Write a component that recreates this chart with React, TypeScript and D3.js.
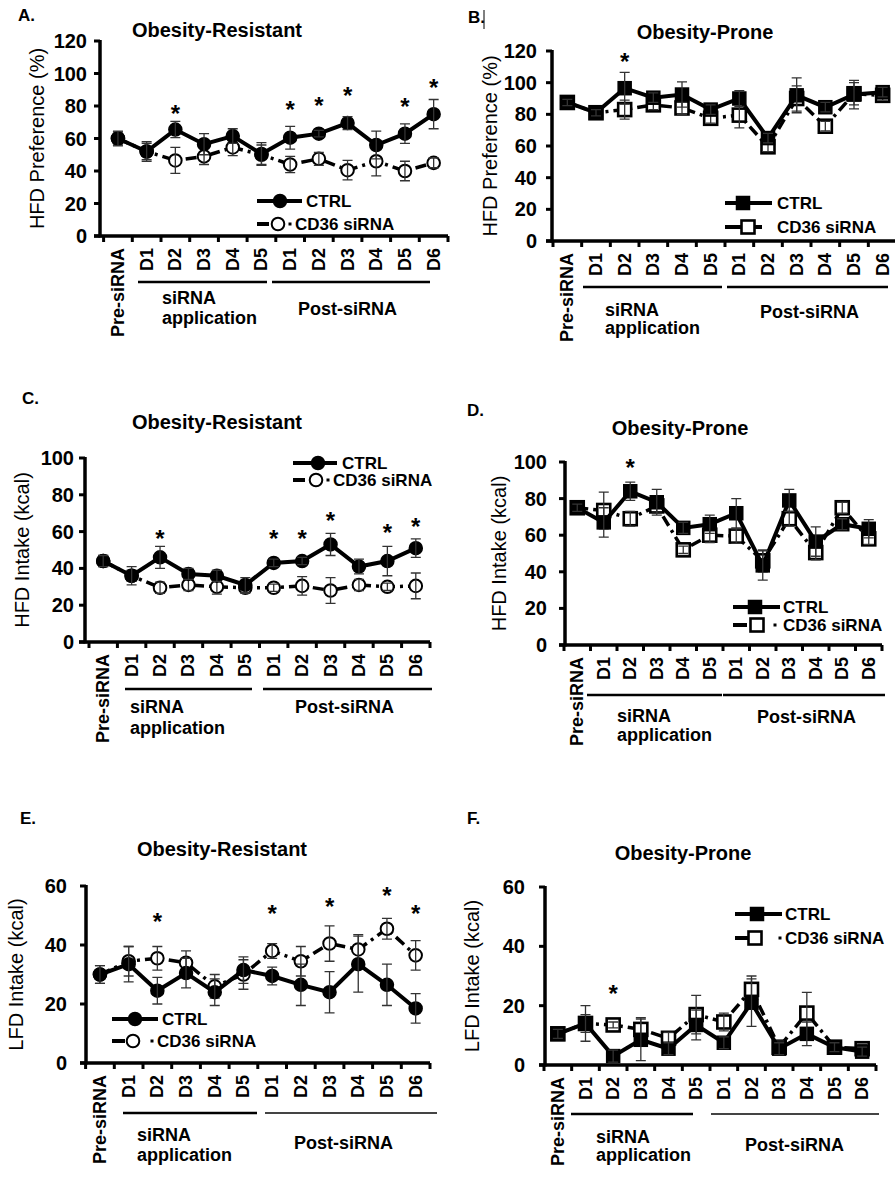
import React from "react";
import * as d3 from "d3";

const FONT = "'Liberation Sans', Arial, Helvetica, sans-serif";

const categories = ["Pre-siRNA", "D1", "D2", "D3", "D4", "D5", "D1", "D2", "D3", "D4", "D5", "D6"];
const groupLabels = ["siRNA", "application", "Post-siRNA"];
const seriesNames = ["CTRL", "CD36 siRNA"];

// Panel A – HFD preference, obesity-resistant
const ctrlA = [60, 52, 65.5, 56.5, 61.5, 50.5, 60.5, 63, 69.5, 56, 63, 75];
const ctrlAErr = [4.5, 6, 5, 6.5, 4.5, 7, 7, 2, 4, 8.5, 6, 9];
const cd36A = [60, 52, 46.5, 49, 54.5, 50, 44, 47.5, 40.5, 46, 40, 45];
const cd36AErr = [4, 5, 8, 5, 5, 6, 5, 4, 6, 9, 6, 3];
const starIdxA = [2, 6, 7, 8, 10, 11];
const starValA = [79, 81, 84, 90, 83, 95];

// Panel B – HFD preference, obesity-prone
const ctrlB = [87.5, 81, 96.5, 90.5, 92.5, 83, 90, 65, 92, 84.5, 92.5, 94];
const ctrlBErr = [2, 2, 10, 3, 8, 3, 5, 3, 11, 3, 9, 3];
const cd36B = [87.5, 81, 83, 86, 84, 77.5, 79.5, 59.5, 90, 72.5, 93, 92];
const cd36BErr = [2, 2, 6, 3, 4, 3, 8, 3, 8, 3, 7, 3];
const starIdxB = [2];
const starValB = [117];

// Panel C – HFD intake, obesity-resistant
const ctrlC = [44, 36, 46, 37, 36, 31, 43, 44, 53, 41, 44, 51];
const ctrlCErr = [3, 5, 6, 3, 3, 4, 2, 2, 6, 4, 8, 5];
const cd36C = [44, 36, 29.5, 31, 30, 29.5, 29.5, 30.5, 28, 31, 30, 30.5];
const cd36CErr = [3, 3, 3, 3, 4, 3, 2, 5, 7, 3, 2, 7];
const starIdxC = [2, 6, 7, 8, 10, 11];
const starValC = [59.5, 59.5, 59.5, 69, 62.5, 66];

// Panel D – HFD intake, obesity-prone
const ctrlD = [75, 67, 84, 78, 64, 66, 72, 43.5, 79, 56.5, 66, 63.5];
const ctrlDErr = [2, 8, 5, 7, 3, 5, 8, 8, 6, 8, 3, 5];
const cd36D = [75, 73.5, 69, 76, 52, 60, 59.5, 46, 69, 50.5, 75, 58];
const cd36DErr = [2, 10, 4, 4, 2, 4, 4, 6, 4, 4, 3, 3];
const starIdxD = [2];
const starValD = [100];

// Panel E – LFD intake, obesity-resistant
const ctrlE = [30, 33.5, 24.5, 30.5, 24, 31.5, 29.5, 26.5, 24, 33.5, 26.5, 18.5];
const ctrlEErr = [3, 6, 4.5, 5, 4.5, 4.5, 3, 7, 7, 9.5, 7, 5];
const cd36E = [30, 34.5, 35.5, 34, 26, 30, 38, 34.5, 40.5, 38.5, 45.5, 36.5];
const cd36EErr = [3, 5, 4, 4, 4, 5, 2.5, 5, 6, 5, 3.5, 5];
const starIdxE = [2, 6, 8, 10, 11];
const starValE = [50, 52.5, 55, 58.5, 52.5];

// Panel F – LFD intake, obesity-prone
const ctrlF = [10.5, 14, 3, 8.5, 5.5, 13.5, 7.5, 21, 5.5, 10.5, 6, 4.5];
const ctrlFErr = [1.5, 6, 2, 7, 2, 5, 2, 8, 2, 4, 1.5, 1.5];
const cd36F = [10.5, 14, 13.5, 12, 9, 17, 14.5, 25.5, 6, 17.5, 6, 5.5];
const cd36FErr = [1.5, 3, 1, 4, 2, 6.5, 3, 4.5, 2, 7, 1.5, 1.5];
const starIdxF = [2];
const starValF = [26];

type Layout = {
  axisX: number; band: [number, number]; y0: number; y1: number; tickDx: number;
  ylabelX: number; titleX: number; titleY: number; letterX: number; letterY: number;
  lineY: number; l1: [number, number]; l2: [number, number]; lineW2: number; line2Color: string;
  siX: number; siY: number; appY: number; postX: number; postY: number;
  leg: { r1: number; r2: number; lx1: number; lx2: number; m1: number; t1: number; dashEnd: number; m2: number; dot: number | null; t2: number };
};

const layoutA: Layout = {
  axisX: 100, band: [103.6, 448], y0: 236, y1: 41, tickDx: -13,
  ylabelX: 37, titleX: 217, titleY: 30, letterX: 18, letterY: 15,
  lineY: 282, l1: [138, 267], l2: [272, 430], lineW2: 2.5, line2Color: "#000",
  siX: 162, siY: 298, appY: 318, postX: 298, postY: 309,
  leg: { r1: 201, r2: 224, lx1: 257, lx2: 302, m1: 280, t1: 306, dashEnd: 269, m2: 278, dot: 290, t2: 295 },
};
const layoutB: Layout = {
  axisX: 552, band: [553, 897], y0: 241, y1: 51, tickDx: -15,
  ylabelX: 490, titleX: 705, titleY: 32, letterX: 468, letterY: 17,
  lineY: 287, l1: [583, 722], l2: [727, 888], lineW2: 2.5, line2Color: "#000",
  siX: 605, siY: 310, appY: 328, postX: 760, postY: 312,
  leg: { r1: 203, r2: 227, lx1: 725, lx2: 772, m1: 743, t1: 777, dashEnd: 762, m2: 748, dot: null, t2: 777 },
};
const layoutC: Layout = {
  axisX: 85, band: [89, 430], y0: 642, y1: 458, tickDx: -11,
  ylabelX: 22, titleX: 217, titleY: 422, letterX: 22, letterY: 398,
  lineY: 689, l1: [125, 252], l2: [263, 432], lineW2: 2.5, line2Color: "#000",
  siX: 130, siY: 707, appY: 728, postX: 295, postY: 707,
  leg: { r1: 463, r2: 480, lx1: 293, lx2: 337, m1: 318, t1: 342, dashEnd: 305, m2: 316, dot: 328, t2: 333 },
};
const layoutD: Layout = {
  axisX: 565, band: [564, 882], y0: 645, y1: 462, tickDx: -18,
  ylabelX: 499, titleX: 680, titleY: 428, letterX: 467, letterY: 410,
  lineY: 695, l1: [587, 722], l2: [723, 885], lineW2: 2.5, line2Color: "#000",
  siX: 617, siY: 716, appY: 735, postX: 757, postY: 717,
  leg: { r1: 607, r2: 625, lx1: 733, lx2: 780, m1: 755, t1: 783, dashEnd: 747, m2: 757, dot: 775, t2: 783 },
};
const layoutE: Layout = {
  axisX: 86, band: [85.6, 430], y0: 1063, y1: 886, tickDx: -19,
  ylabelX: 16, titleX: 222, titleY: 849, letterX: 20, letterY: 818,
  lineY: 1113, l1: [123, 257], l2: [265, 437], lineW2: 1.8, line2Color: "#444",
  siX: 137, siY: 1135, appY: 1155, postX: 294, postY: 1143,
  leg: { r1: 1019, r2: 1041, lx1: 112, lx2: 158, m1: 135, t1: 162, dashEnd: 125, m2: 133, dot: 152, t2: 157 },
};
const layoutF: Layout = {
  axisX: 545, band: [544, 876], y0: 1065, y1: 887, tickDx: -20,
  ylabelX: 472, titleX: 683, titleY: 853, letterX: 467, letterY: 818,
  lineY: 1114, l1: [571, 693], l2: [711, 879], lineW2: 1.8, line2Color: "#444",
  siX: 596, siY: 1137, appY: 1155, postX: 745, postY: 1145,
  leg: { r1: 914, r2: 938, lx1: 735, lx2: 782, m1: 757, t1: 785, dashEnd: 748, m2: 755, dot: 780, t2: 785 },
};

type PanelDef = {
  ctrl: number[]; ctrlErr: number[]; cd: number[]; cdErr: number[];
  starIdx: number[]; starVal: number[]; ymax: number; marker: "circle" | "square";
  ylabel: string; title: string; letter: string; layout: Layout;
};

const panels: PanelDef[] = [
  { ctrl: ctrlA, ctrlErr: ctrlAErr, cd: cd36A, cdErr: cd36AErr, starIdx: starIdxA, starVal: starValA, ymax: 120, marker: "circle", ylabel: "HFD Preference (%)", title: "Obesity-Resistant", letter: "A.", layout: layoutA },
  { ctrl: ctrlB, ctrlErr: ctrlBErr, cd: cd36B, cdErr: cd36BErr, starIdx: starIdxB, starVal: starValB, ymax: 120, marker: "square", ylabel: "HFD Preference (%)", title: "Obesity-Prone", letter: "B.", layout: layoutB },
  { ctrl: ctrlC, ctrlErr: ctrlCErr, cd: cd36C, cdErr: cd36CErr, starIdx: starIdxC, starVal: starValC, ymax: 100, marker: "circle", ylabel: "HFD Intake (kcal)", title: "Obesity-Resistant", letter: "C.", layout: layoutC },
  { ctrl: ctrlD, ctrlErr: ctrlDErr, cd: cd36D, cdErr: cd36DErr, starIdx: starIdxD, starVal: starValD, ymax: 100, marker: "square", ylabel: "HFD Intake (kcal)", title: "Obesity-Prone", letter: "D.", layout: layoutD },
  { ctrl: ctrlE, ctrlErr: ctrlEErr, cd: cd36E, cdErr: cd36EErr, starIdx: starIdxE, starVal: starValE, ymax: 60, marker: "circle", ylabel: "LFD Intake (kcal)", title: "Obesity-Resistant", letter: "E.", layout: layoutE },
  { ctrl: ctrlF, ctrlErr: ctrlFErr, cd: cd36F, cdErr: cd36FErr, starIdx: starIdxF, starVal: starValF, ymax: 60, marker: "square", ylabel: "LFD Intake (kcal)", title: "Obesity-Prone", letter: "F.", layout: layoutF },
];

const DASH = "11,5,3,5";

function Marker({ shape, cx, cy, open }: { shape: string; cx: number; cy: number; open: boolean }) {
  if (shape === "circle") {
    return <circle cx={cx} cy={cy} r={open ? 6.3 : 6.5} fill={open ? "#fff" : "#000"} stroke="#000" strokeWidth={open ? 2 : 1.5} />;
  }
  const s = 13;
  return <rect x={cx - s / 2} y={cy - s / 2} width={s} height={s} fill={open ? "#fff" : "#000"} stroke="#000" strokeWidth={open ? 2.6 : 1.5} />;
}

function Panel({ p }: { p: PanelDef }) {
  const L = p.layout;
  const idx = d3.range(categories.length);
  const x = d3.scaleBand<number>().domain(idx).range(L.band);
  const bw = x.bandwidth();
  const cxOf = (i: number) => (x(i) as number) + bw / 2;
  const y = d3.scaleLinear().domain([0, p.ymax]).range([L.y0, L.y1]);
  const ticks = d3.range(0, p.ymax + 1, 20);
  const line = d3.line<number>().x((_, i) => cxOf(i)).y((d) => y(d));
  const boundaries = d3.range(categories.length + 1).map((i) => L.band[0] + i * bw);

  const errPath = (vals: number[], errs: number[]) =>
    vals
      .map((v, i) => {
        const cx = cxOf(i);
        const top = y(v + errs[i]);
        const bot = y(Math.max(0, v - errs[i]));
        return `M${cx},${top}V${bot}M${cx - 5},${top}H${cx + 5}M${cx - 5},${bot}H${cx + 5}`;
      })
      .join("");

  const lg = L.leg;
  return (
    <g fontFamily={FONT}>
      <text x={L.letterX} y={L.letterY} fontSize={17} fontWeight="bold" dominantBaseline="central">{p.letter}</text>
      {p.letter === "B." && <line x1={L.letterX + 16} x2={L.letterX + 16} y1={L.letterY - 7} y2={L.letterY + 12} stroke="#000" strokeWidth={1} />}
      <text x={L.titleX} y={L.titleY} fontSize={20} fontWeight="bold" textAnchor="middle" dominantBaseline="central">{p.title}</text>
      <text transform={`translate(${L.ylabelX},${(L.y0 + L.y1) / 2}) rotate(-90)`} fontSize={20} textAnchor="middle" dominantBaseline="central">{p.ylabel}</text>

      {/* y axis */}
      {ticks.map((t) => (
        <g key={"yt" + t}>
          <line x1={L.axisX - 6} x2={L.axisX} y1={y(t)} y2={y(t)} stroke="#000" strokeWidth={3} />
          <text x={L.axisX + L.tickDx} y={y(t)} fontSize={20} fontWeight="bold" textAnchor="end" dominantBaseline="central">{t}</text>
        </g>
      ))}
      <line x1={L.axisX} x2={L.axisX} y1={L.y0 + 1.5} y2={L.y1 - 1} stroke="#000" strokeWidth={3.5} />
      {/* x axis */}
      <line x1={L.axisX - 6} x2={L.band[1]} y1={L.y0} y2={L.y0} stroke="#000" strokeWidth={3.5} />
      {boundaries.map((bx, i) => (
        <line key={"xt" + i} x1={bx} x2={bx} y1={L.y0} y2={L.y0 + 6} stroke="#000" strokeWidth={3} />
      ))}
      {categories.map((c, i) => (
        <text key={"xl" + i} transform={`translate(${cxOf(i)},${L.y0 + 12}) rotate(-90)`} fontSize={18} fontWeight="bold" textAnchor="end" dominantBaseline="central">{c}</text>
      ))}
      {/* group brackets */}
      <line x1={L.l1[0]} x2={L.l1[1]} y1={L.lineY} y2={L.lineY} stroke="#000" strokeWidth={2.5} />
      <line x1={L.l2[0]} x2={L.l2[1]} y1={L.lineY} y2={L.lineY} stroke={L.line2Color} strokeWidth={L.lineW2} />
      <text x={L.siX} y={L.siY} fontSize={18} fontWeight="bold" dominantBaseline="central">{groupLabels[0]}</text>
      <text x={L.siX} y={L.appY} fontSize={18} fontWeight="bold" dominantBaseline="central">{groupLabels[1]}</text>
      <text x={L.postX} y={L.postY} fontSize={18} fontWeight="bold" dominantBaseline="central">{groupLabels[2]}</text>

      {/* CD36 siRNA series */}
      <path d={line(p.cd) || ""} fill="none" stroke="#000" strokeWidth={3.5} strokeDasharray={DASH} />
      {p.cd.map((v, i) => <Marker key={"cm" + i} shape={p.marker} cx={cxOf(i)} cy={y(v)} open={true} />)}
      <path d={errPath(p.cd, p.cdErr)} fill="none" stroke="#333" strokeWidth={1.3} />
      {/* CTRL series */}
      <path d={line(p.ctrl) || ""} fill="none" stroke="#000" strokeWidth={4} />
      {p.ctrl.map((v, i) => <Marker key={"tm" + i} shape={p.marker} cx={cxOf(i)} cy={y(v)} open={false} />)}
      <path d={errPath(p.ctrl, p.ctrlErr)} fill="none" stroke="#333" strokeWidth={1.3} />

      {/* significance */}
      {p.starIdx.map((si, k) => (
        <text key={"st" + k} x={cxOf(si)} y={y(p.starVal[k]) + 14} fontSize={24} fontWeight="bold" textAnchor="middle">*</text>
      ))}

      {/* legend */}
      <line x1={lg.lx1} x2={lg.lx2} y1={lg.r1} y2={lg.r1} stroke="#000" strokeWidth={4} />
      <Marker shape={p.marker} cx={lg.m1} cy={lg.r1} open={false} />
      <text x={lg.t1} y={lg.r1} fontSize={17} fontWeight="bold" dominantBaseline="central">{seriesNames[0]}</text>
      <line x1={lg.lx1} x2={lg.dashEnd} y1={lg.r2} y2={lg.r2} stroke="#000" strokeWidth={4} />
      <Marker shape={p.marker} cx={lg.m2} cy={lg.r2} open={true} />
      {lg.dot !== null && <rect x={lg.dot - 1.5} y={lg.r2 - 1.5} width={3} height={3} fill="#000" />}
      <text x={lg.t2} y={lg.r2} fontSize={17} fontWeight="bold" dominantBaseline="central">{seriesNames[1]}</text>
    </g>
  );
}

export default function App() {
  return (
    <svg width={895} height={1181} viewBox="0 0 895 1181" style={{ position: "absolute", left: 0, top: 0, background: "#fff" }}>
      <rect x={0} y={0} width={895} height={1181} fill="#fff" />
      {panels.map((p, i) => <Panel key={i} p={p} />)}
    </svg>
  );
}
